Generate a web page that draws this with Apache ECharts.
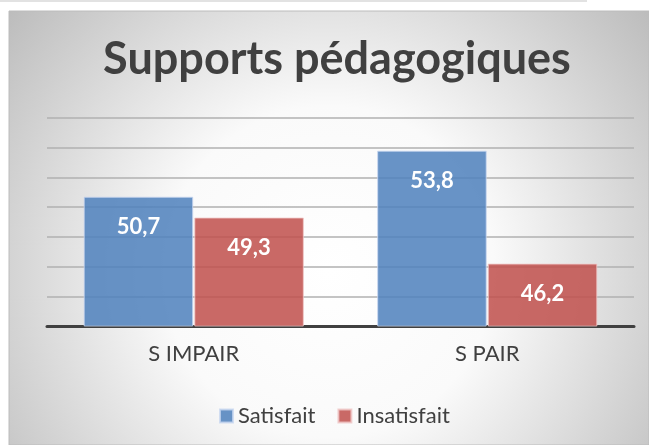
<!DOCTYPE html>
<html>
<head>
<meta charset="utf-8">
<script src="https://cdn.jsdelivr.net/npm/echarts@6/dist/echarts.min.js"></script>
<style>html,body{margin:0;padding:0;background:#fff;}#c{width:649px;height:445px;}</style>
</head>
<body>
<div id="c"></div>
<script>
const categories = ['S IMPAIR', 'S PAIR'];
const satisfait = [50.7, 53.8];
const insatisfait = [49.3, 46.2];
const seriesNames = ['Satisfait', 'Insatisfait'];

const chart = echarts.init(document.getElementById('c'), null, {renderer: 'canvas'});
const fmt = p => String(p.value).replace('.', ',');
const labelStyle = {
  show: true, position: 'insideTop', distance: 19,
  color: '#ffffff', fontFamily: 'Lato', fontWeight: 'bold', fontSize: 22,
  formatter: fmt
};
chart.setOption({
  backgroundColor: '#ffffff',
  animation: false,
  graphic: [
    {type: 'rect', z: -10, shape: {x: 0, y: 0, width: 587, height: 2}, style: {fill: '#e2e2e2'}},
    {type: 'rect', z: -10, shape: {x: 9, y: 11, width: 640, height: 434},
      style: {
        fill: {type: 'radial', x: 0.5, y: 0.6, r: 0.95,
          colorStops: [{offset: 0, color: '#ffffff'}, {offset: 0.4, color: '#fafafa'}, {offset: 1, color: '#bcbcbc'}]},
        stroke: '#bcbcbc', lineWidth: 1
      }}
  ],
  title: {
    text: 'Supports pédagogiques',
    left: 332, top: 32, textAlign: 'center',
    textStyle: {fontFamily: 'Lato', fontWeight: 'bold', fontSize: 45, color: '#404040'}
  },
  legend: {
    data: seriesNames,
    left: 214, top: 400,
    icon: 'rect', itemWidth: 13, itemHeight: 13, itemGap: 22,
    textStyle: {fontFamily: 'Lato', fontSize: 22, color: '#404040'}
  },
  grid: {left: 47, right: 15, top: 118, bottom: 119, containLabel: false},
  xAxis: {
    type: 'category', data: categories,
    axisLine: {lineStyle: {color: '#404040', width: 3}},
    axisTick: {show: false},
    axisLabel: {margin: 17, fontFamily: 'Lato', fontSize: 22, color: '#404040'}
  },
  yAxis: {
    type: 'value', min: 42, max: 56, interval: 2,
    axisLabel: {show: false}, axisLine: {show: false}, axisTick: {show: false},
    splitLine: {lineStyle: {color: '#b0b0b0', width: 1.5}}
  },
  series: [
    {name: seriesNames[0], type: 'bar', data: satisfait, barCategoryGap: '25%', barGap: '1%',
      itemStyle: {color: 'rgba(79,129,189,0.86)', borderColor: 'rgba(200,215,240,0.8)', borderWidth: 1},
      label: labelStyle},
    {name: seriesNames[1], type: 'bar', data: insatisfait,
      itemStyle: {color: 'rgba(192,80,77,0.86)', borderColor: 'rgba(240,200,200,0.8)', borderWidth: 1},
      label: labelStyle}
  ]
});
</script>
</body>
</html>
